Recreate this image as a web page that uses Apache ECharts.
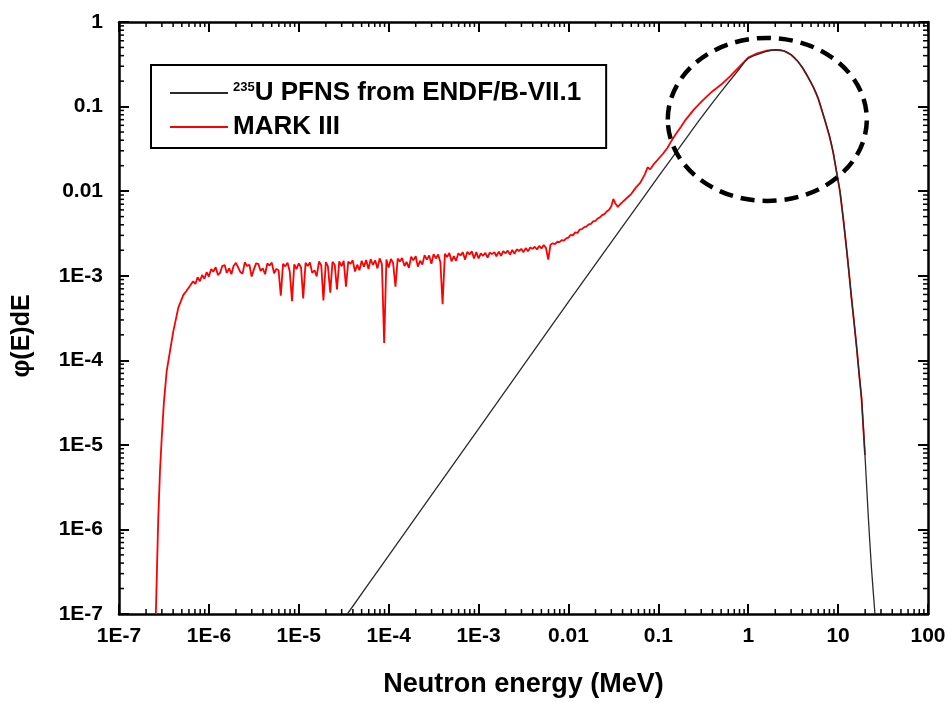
<!DOCTYPE html>
<html>
<head>
<meta charset="utf-8">
<script src="https://cdn.jsdelivr.net/npm/echarts@6/dist/echarts.min.js"></script>
<style>html,body{margin:0;padding:0;background:#fff}#c{width:949px;height:703px}</style>
</head>
<body>
<div id="c"></div>
<script>
const xTickLabels = ['1E-7','1E-6','1E-5','1E-4','1E-3','0.01','0.1','1','10','100'];
const yTickLabels = ['1E-7','1E-6','1E-5','1E-4','1E-3','0.01','0.1','1'];
const minorMantissas = [2,3,4,5,6,7,8,9];

const seriesNames = ['235U PFNS from ENDF/B-VII.1', 'MARK III'];

// ENDF/B-VII.1 PFNS (black)
const blackE = [3.47e-5,1e-4,1e-3,0.01,0.05,0.1,0.2,0.3,0.5,0.8,1.0,1.5,2.0,2.5,3.0,3.5,4.0,4.5,5.3,6.0,7.1,8.0,8.8,9.6,10.5,11.5,12.4,13.2,14.1,15,16.1,17.2,18.2,19.9,21.6,23.5,25.7];
const blackV = [1e-7,4.9e-7,1.55e-5,4.9e-4,5.3e-3,0.0148,0.041,0.074,0.15,0.28,0.37,0.44,0.47,0.455,0.41,0.35,0.29,0.235,0.17,0.125,0.07,0.045,0.029,0.017,0.0098,0.0044,0.0021,0.0011,5.4e-4,2.9e-4,1.4e-4,6.6e-5,3.6e-5,7.6e-6,1.5e-6,3.5e-7,1e-7];

// MARK III (red)
const redE = [
2.57e-7,2.73e-7,2.86e-7,2.99e-7,3.16e-7,3.39e-7,3.70e-7,4.02e-7,4.57e-7,5.19e-7,5.62e-7,6.17e-7,6.68e-7,7.08e-7,7.50e-7,7.94e-7,8.41e-7,8.91e-7,9.44e-7,
1e-6,1.06e-6,1.12e-6,1.19e-6,1.26e-6,1.33e-6,1.41e-6,1.5e-6,1.58e-6,1.68e-6,1.78e-6,1.88e-6,2e-6,2.11e-6,2.24e-6,2.37e-6,2.51e-6,2.66e-6,2.82e-6,2.99e-6,3.16e-6,3.35e-6,3.55e-6,3.76e-6,3.98e-6,4.22e-6,4.47e-6,4.73e-6,5.01e-6,5.31e-6,5.62e-6,5.96e-6,6.31e-6,6.68e-6,7.08e-6,7.5e-6,7.94e-6,8.41e-6,8.91e-6,9.44e-6,
1e-5,1.06e-5,1.12e-5,1.19e-5,1.26e-5,1.33e-5,1.41e-5,1.5e-5,1.58e-5,1.68e-5,1.78e-5,1.88e-5,2e-5,2.11e-5,2.24e-5,2.37e-5,2.51e-5,2.66e-5,2.82e-5,2.99e-5,3.16e-5,3.35e-5,3.55e-5,3.76e-5,3.98e-5,4.22e-5,4.47e-5,4.73e-5,5.01e-5,5.31e-5,5.62e-5,5.96e-5,6.31e-5,6.68e-5,7.08e-5,7.5e-5,7.94e-5,8.41e-5,8.91e-5,9.44e-5,
1e-4,1.06e-4,1.12e-4,1.19e-4,1.26e-4,1.33e-4,1.41e-4,1.5e-4,1.58e-4,1.68e-4,1.78e-4,1.88e-4,2e-4,2.11e-4,2.24e-4,2.37e-4,2.51e-4,2.66e-4,2.82e-4,2.99e-4,3.16e-4,3.35e-4,3.55e-4,3.76e-4,3.98e-4,4.22e-4,4.47e-4,4.73e-4,5.01e-4,5.31e-4,5.62e-4,5.96e-4,6.31e-4,6.68e-4,7.08e-4,7.5e-4,7.94e-4,8.41e-4,8.91e-4,9.44e-4,
1e-3,1.06e-3,1.12e-3,1.19e-3,1.26e-3,1.33e-3,1.41e-3,1.5e-3,1.58e-3,1.68e-3,1.78e-3,1.88e-3,2e-3,2.11e-3,2.24e-3,2.37e-3,2.51e-3,2.66e-3,2.82e-3,2.99e-3,3.16e-3,3.35e-3,3.55e-3,3.76e-3,3.98e-3,4.22e-3,4.47e-3,4.73e-3,5.01e-3,5.31e-3,5.62e-3,5.96e-3,6.31e-3,6.68e-3,7.08e-3,7.5e-3,7.94e-3,8.41e-3,8.91e-3,9.44e-3,
0.01,0.0106,0.0112,0.0119,0.0126,0.0133,0.0141,0.015,0.0158,0.0168,0.0178,0.0188,0.02,0.0211,0.0224,0.0237,0.0251,0.0266,0.0282,0.0299,0.0316,0.0331,0.0355,0.0376,0.0398,0.0447,0.0501,0.0562,0.0631,0.0708,0.0759,0.0813,0.0891,
0.1,0.112,0.126,0.141,0.158,0.178,0.2,0.251,0.316,0.398,0.501,0.631,0.794,1.0,1.26,1.58,2.0,2.5,3.0,3.5,4.0,4.5,5.3,6.0,7.1,8.0,8.8,9.6,10.5,11.5,12.4,13.2,14.1,15,16.1,17.2,18.2,19.9
];
const redV = [
1e-7,1.3e-6,5e-6,1.23e-5,3.2e-5,7.4e-5,1.3e-4,2.2e-4,4.2e-4,5.9e-4,6.6e-4,7.6e-4,8.6e-4,8.0e-4,9.6e-4,8.6e-4,1.02e-3,0.92e-3,1.1e-3,
0.98e-3,1.20e-3,1.12e-3,1.26e-3,1.02e-3,1.08e-3,1.30e-3,1.34e-3,1.08e-3,1.22e-3,1.04e-3,1.30e-3,1.42e-3,1.26e-3,1.10e-3,1.06e-3,1.44e-3,1.30e-3,1.35e-3,0.98e-3,1.18e-3,1.40e-3,1.38e-3,1.14e-3,1.22e-3,1.04e-3,1.40e-3,1.32e-3,1.43e-3,1.07e-3,1.20e-3,1.16e-3,0.58e-3,1.38e-3,1.29e-3,1.42e-3,1.12e-3,0.50e-3,1.36e-3,1.20e-3,
1.40e-3,1.25e-3,0.54e-3,1.42e-3,1.30e-3,1.44e-3,1.08e-3,1.16e-3,0.98e-3,1.47e-3,1.32e-3,0.51e-3,1.45e-3,1.29e-3,0.63e-3,1.46e-3,1.35e-3,0.69e-3,1.48e-3,1.30e-3,1.50e-3,0.74e-3,1.47e-3,1.38e-3,1.52e-3,1.12e-3,1.35e-3,1.16e-3,1.50e-3,1.28e-3,1.53e-3,1.20e-3,1.57e-3,1.34e-3,1.52e-3,1.22e-3,1.60e-3,1.37e-3,0.16e-3,1.55e-3,
1.25e-3,1.58e-3,1.42e-3,0.74e-3,1.60e-3,1.47e-3,1.62e-3,1.30e-3,1.46e-3,1.24e-3,1.68e-3,1.52e-3,1.70e-3,1.28e-3,1.50e-3,1.36e-3,1.75e-3,1.55e-3,1.74e-3,1.38e-3,1.80e-3,1.60e-3,1.78e-3,1.44e-3,0.46e-3,1.82e-3,1.66e-3,1.86e-3,1.48e-3,1.70e-3,1.50e-3,1.84e-3,1.74e-3,1.90e-3,1.55e-3,1.92e-3,1.78e-3,1.94e-3,1.60e-3,1.90e-3,
1.60e-3,1.84e-3,1.72e-3,1.86e-3,1.64e-3,1.88e-3,1.80e-3,1.90e-3,1.70e-3,1.93e-3,1.72e-3,1.95e-3,1.84e-3,1.98e-3,1.78e-3,2.02e-3,1.82e-3,2.05e-3,1.96e-3,2.08e-3,1.90e-3,2.12e-3,1.95e-3,2.16e-3,2.08e-3,2.20e-3,2.04e-3,2.25e-3,2.10e-3,2.30e-3,2.14e-3,1.55e-3,2.33e-3,2.42e-3,2.36e-3,2.52e-3,2.50e-3,2.64e-3,2.60e-3,2.76e-3,
2.82e-3,3.05e-3,3.0e-3,3.25e-3,3.2e-3,3.5e-3,3.55e-3,3.75e-3,3.8e-3,4.05e-3,4.1e-3,4.4e-3,4.45e-3,4.75e-3,4.9e-3,5.2e-3,5.35e-3,5.75e-3,6.0e-3,6.6e-3,8.1e-3,7.2e-3,6.5e-3,7.0e-3,7.4e-3,8.3e-3,9.3e-3,0.011,0.0126,0.0158,0.0191,0.0182,0.0209,
0.024,0.0275,0.0324,0.0398,0.0479,0.0575,0.0692,0.0933,0.120,0.151,0.182,0.229,0.295,0.38,0.427,0.457,0.468,0.455,0.41,0.35,0.29,0.235,0.17,0.125,0.07,0.045,0.029,0.017,0.0098,0.0044,0.0021,0.0011,5.4e-4,2.9e-4,1.4e-4,6.6e-5,3.6e-5,7.6e-6
];

// dashed ellipse annotation (data-space centre and extent)
const ellipseCenter = [1.63, 0.0705];
const ellipseXRange = [0.1277, 20.9];
const ellipseYRange = [0.00766, 0.649];

const FONT = 'Liberation Sans, Arial, Helvetica, sans-serif';
const X_MIN = 1e-7, X_MAX = 100, Y_MIN = 1e-7, Y_MAX = 1;
const chart = echarts.init(document.getElementById('c'), null, {renderer: 'canvas'});

// log-spaced minor tick positions (2..9 in each decade)
const minorTickData = [];
for (let d = -7; d < 2; d++) minorMantissas.forEach(m => minorTickData.push([m * Math.pow(10, d), Y_MIN, 0]));
for (let d = -7; d < 0; d++) minorMantissas.forEach(m => minorTickData.push([X_MIN, m * Math.pow(10, d), 1]));

function xAxisCfg(pos, showLabel) {
  return {
    type: 'log', logBase: 10, min: X_MIN, max: X_MAX, interval: 1, position: pos, gridIndex: 0,
    axisLine: {show: true, onZero: false, lineStyle: {color: '#000', width: 2.5}},
    axisTick: {show: true, inside: true, length: 10, lineStyle: {color: '#000', width: 2}},
    minorTick: {show: false}, splitLine: {show: false}, minorSplitLine: {show: false},
    axisLabel: {show: showLabel, margin: 12, color: '#000', fontSize: 21, fontWeight: 'bold', fontFamily: FONT,
      showMinLabel: true, showMaxLabel: true,
      formatter: v => xTickLabels[Math.round(Math.log10(v)) + 7]},
    name: showLabel ? 'Neutron energy (MeV)' : '',
    nameLocation: 'middle', nameGap: 57,
    nameTextStyle: {color: '#000', fontSize: 27, fontWeight: 'bold', fontFamily: FONT}
  };
}
function yAxisCfg(pos, showLabel) {
  return {
    type: 'log', logBase: 10, min: Y_MIN, max: Y_MAX, interval: 1, position: pos, gridIndex: 0,
    axisLine: {show: true, onZero: false, lineStyle: {color: '#000', width: 2.5}},
    axisTick: {show: true, inside: true, length: 10, lineStyle: {color: '#000', width: 2}},
    minorTick: {show: false}, splitLine: {show: false}, minorSplitLine: {show: false},
    axisLabel: {show: showLabel, margin: 16, color: '#000', fontSize: 21, fontWeight: 'bold', fontFamily: FONT,
      showMinLabel: true, showMaxLabel: true,
      formatter: v => yTickLabels[Math.round(Math.log10(v)) + 7]},
    name: showLabel ? 'φ(E)dE' : '',
    nameLocation: 'middle', nameGap: 84, nameRotate: 90,
    nameTextStyle: {color: '#000', fontSize: 25, fontWeight: 'bold', fontFamily: FONT, padding: [0, 36, 0, 0]}
  };
}

chart.setOption({
  animation: false,
  backgroundColor: '#fff',
  grid: {left: 119, top: 22, width: 809, height: 596, containLabel: false},
  xAxis: [xAxisCfg('bottom', true), xAxisCfg('top', false)],
  yAxis: [yAxisCfg('left', true), yAxisCfg('right', false)],
  legend: {
    orient: 'vertical', left: 151, top: 65,
    padding: [15, 25, 8, 19], itemGap: 8,
    itemWidth: 58, itemHeight: 2, icon: 'rect',
    borderColor: '#000', borderWidth: 2, backgroundColor: '#fff',
    data: seriesNames,
    formatter: n => n === seriesNames[0] ? '{s|235}{t|U PFNS from ENDF/B-VII.1}' : '{t|' + n + '}',
    textStyle: {
      color: '#000', fontFamily: FONT,
      rich: {
        s: {fontSize: 13, fontWeight: 'bold', fontFamily: FONT, color: '#000', padding: [0, 0, 12, 0]},
        t: {fontSize: 26, fontWeight: 'bold', fontFamily: FONT, color: '#000', lineHeight: 26}
      }
    }
  },
  series: [
    {
      name: seriesNames[0], type: 'line', xAxisIndex: 0, yAxisIndex: 0, z: 4,
      data: blackE.map((e, i) => [e, blackV[i]]),
      symbol: 'none', smooth: 0.25, clip: true,
      lineStyle: {color: '#2a2a2a', width: 1.3}, itemStyle: {color: '#2a2a2a'}
    },
    {
      name: seriesNames[1], type: 'line', xAxisIndex: 0, yAxisIndex: 0, z: 3,
      data: redE.map((e, i) => [e, redV[i]]),
      symbol: 'none', clip: true,
      lineStyle: {color: '#ff0000', width: 1.8}, itemStyle: {color: '#ff0000'}
    },
    {
      name: 'minorTicks', type: 'custom', xAxisIndex: 0, yAxisIndex: 0, silent: true, clip: false, z: 10,
      data: minorTickData,
      renderItem: function (params, api) {
        const kind = api.value(2);
        const st = {stroke: '#000', lineWidth: 1.5};
        if (kind === 0) {
          const b = api.coord([api.value(0), Y_MIN]);
          const t = api.coord([api.value(0), Y_MAX]);
          return {type: 'group', children: [
            {type: 'line', shape: {x1: b[0], y1: b[1], x2: b[0], y2: b[1] - 5}, style: st},
            {type: 'line', shape: {x1: t[0], y1: t[1], x2: t[0], y2: t[1] + 5}, style: st}
          ]};
        }
        const l = api.coord([X_MIN, api.value(1)]);
        const r = api.coord([X_MAX, api.value(1)]);
        return {type: 'group', children: [
          {type: 'line', shape: {x1: l[0], y1: l[1], x2: l[0] + 5, y2: l[1]}, style: st},
          {type: 'line', shape: {x1: r[0], y1: r[1], x2: r[0] - 5, y2: r[1]}, style: st}
        ]};
      }
    }
  ]
});

const pc = chart.convertToPixel({xAxisIndex: 0, yAxisIndex: 0}, ellipseCenter);
const pl = chart.convertToPixel({xAxisIndex: 0, yAxisIndex: 0}, [ellipseXRange[0], ellipseCenter[1]]);
const pr = chart.convertToPixel({xAxisIndex: 0, yAxisIndex: 0}, [ellipseXRange[1], ellipseCenter[1]]);
const pb = chart.convertToPixel({xAxisIndex: 0, yAxisIndex: 0}, [ellipseCenter[0], ellipseYRange[0]]);
const pt = chart.convertToPixel({xAxisIndex: 0, yAxisIndex: 0}, [ellipseCenter[0], ellipseYRange[1]]);
chart.setOption({
  graphic: [{
    type: 'ellipse', z: 100,
    shape: {cx: pc[0], cy: pc[1], rx: (pr[0] - pl[0]) / 2, ry: (pb[1] - pt[1]) / 2},
    style: {fill: null, stroke: '#000', lineWidth: 4.5, lineDash: [14, 8]}
  }]
});
</script>
</body>
</html>
